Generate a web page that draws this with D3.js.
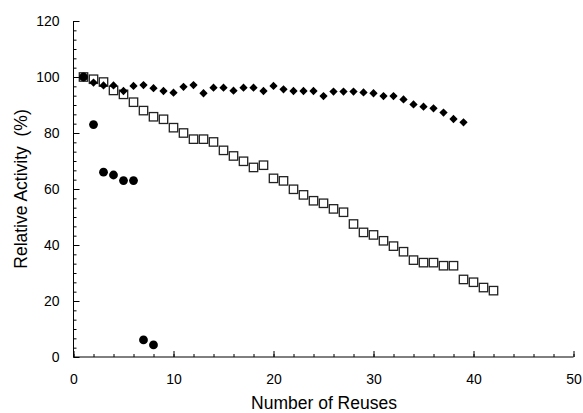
<!DOCTYPE html>
<html>
<head>
<meta charset="utf-8">
<script src="https://cdn.jsdelivr.net/npm/d3@7/dist/d3.min.js"></script>
<style>
  html, body { margin: 0; padding: 0; background: #fff; }
  svg { display: block; }
  text { font-family: "Liberation Sans", Arial, Helvetica, sans-serif; fill: #000; }
</style>
</head>
<body>
<svg id="chart" width="583" height="413"></svg>
<script>
// Reuse cycles (x) and relative activity (%) for each preparation
const diamondX = d3.range(1, 40);
const diamondY = [100, 98, 97, 97, 95, 96.8, 97.1, 96, 95, 94.4,
                  96.5, 97.1, 94.2, 96.2, 96.2, 95.1, 96.2, 96.2, 95, 96.8,
                  95.6, 95, 95, 95, 93.2, 94.8, 94.8, 94.8, 94.5, 94.2,
                  93.2, 93.2, 92, 90.2, 89.4, 88.8, 87.3, 85, 83.8];

const squareX = d3.range(1, 43);
const squareY = [100, 99.2, 98.2, 95.2, 93.8, 91, 88, 85.8, 84.9, 81.9,
                 80, 77.8, 77.8, 76.8, 73.8, 71.8, 69.9, 67.7, 68.5, 63.8,
                 62.9, 59.9, 57.9, 55.8, 54.9, 52.9, 51.7, 47.5, 44.5, 43.6,
                 41.5, 39.6, 37.6, 34.6, 33.7, 33.7, 32.6, 32.6, 27.7, 26.7,
                 24.8, 23.7];

const circleX = [1, 2, 3, 4, 5, 6, 7, 8];
const circleY = [100, 83, 66, 65, 63, 63, 6.1, 4.3];

const xTicks = [0, 10, 20, 30, 40, 50];
const yTicks = [0, 20, 40, 60, 80, 100, 120];

const svg = d3.select("#chart");
const x = d3.scaleLinear().domain([0, 50]).range([73.5, 573.5]);
const y = d3.scaleLinear().domain([0, 120]).range([357, 21]);

// Axes: ticks point inward, minor ticks between the labelled ones
const xMinor = d3.range(0, 50.01, 2);
const yMinor = d3.range(0, 120.01, 20 / 6);

const xAxisG = svg.append("g").attr("transform", `translate(0,${y(0)})`);
xAxisG.call(d3.axisBottom(x).tickValues(xMinor).tickSize(-3).tickFormat(""))
  .call(g => g.select(".domain").remove());
xAxisG.append("g")
  .call(d3.axisBottom(x).tickValues(xTicks).tickSize(-6).tickPadding(17).tickFormat(d3.format("d")))
  .call(g => g.select(".domain").remove())
  .call(g => g.selectAll("text").attr("font-size", 14).attr("dy", "0.71em"));

const yAxisG = svg.append("g").attr("transform", `translate(${x(0)},0)`);
yAxisG.call(d3.axisLeft(y).tickValues(yMinor).tickSize(-3).tickFormat(""))
  .call(g => g.select(".domain").remove());
yAxisG.append("g")
  .call(d3.axisLeft(y).tickValues(yTicks).tickSize(-6).tickPadding(14).tickFormat(d3.format("d")))
  .call(g => g.select(".domain").remove())
  .call(g => g.selectAll("text").attr("font-size", 14));

svg.selectAll(".tick line").attr("stroke", "#000").attr("stroke-width", 1);

// Axis lines (left and bottom only)
svg.append("line").attr("x1", x(0)).attr("x2", x(0)).attr("y1", y(120)).attr("y2", y(0))
  .attr("stroke", "#000").attr("stroke-width", 1);
svg.append("line").attr("x1", x(0)).attr("x2", x(50)).attr("y1", y(0)).attr("y2", y(0))
  .attr("stroke", "#000").attr("stroke-width", 1);

// Axis titles
svg.append("text").attr("x", 324).attr("y", 409).attr("text-anchor", "middle")
  .attr("font-size", 17.5).text("Number of Reuses");
svg.append("text").attr("transform", `translate(27,${y(60)}) rotate(-90)`)
  .attr("text-anchor", "middle").attr("font-size", 17.5)
  .attr("xml:space", "preserve").text("Relative Activity  (%)");

// Open squares
const squares = squareX.map((d, i) => ({ x: d, y: squareY[i] }));
svg.append("g").selectAll("rect").data(squares).join("rect")
  .attr("x", d => x(d.x) - 4.2).attr("y", d => y(d.y) - 4.2)
  .attr("width", 8.4).attr("height", 8.4)
  .attr("fill", "#fff").attr("stroke", "#222").attr("stroke-width", 1.3);

// Filled diamonds
const diamonds = diamondX.map((d, i) => ({ x: d, y: diamondY[i] }));
const diamondPath = d3.symbol().type(d3.symbolDiamond2).size(44);
svg.append("g").selectAll("path").data(diamonds).join("path")
  .attr("transform", d => `translate(${x(d.x)},${y(d.y)})`)
  .attr("d", diamondPath).attr("fill", "#000");

// Filled circles
const circles = circleX.map((d, i) => ({ x: d, y: circleY[i] }));
svg.append("g").selectAll("circle").data(circles).join("circle")
  .attr("cx", d => x(d.x)).attr("cy", d => y(d.y)).attr("r", 4.4)
  .attr("fill", "#000");
</script>
</body>
</html>
